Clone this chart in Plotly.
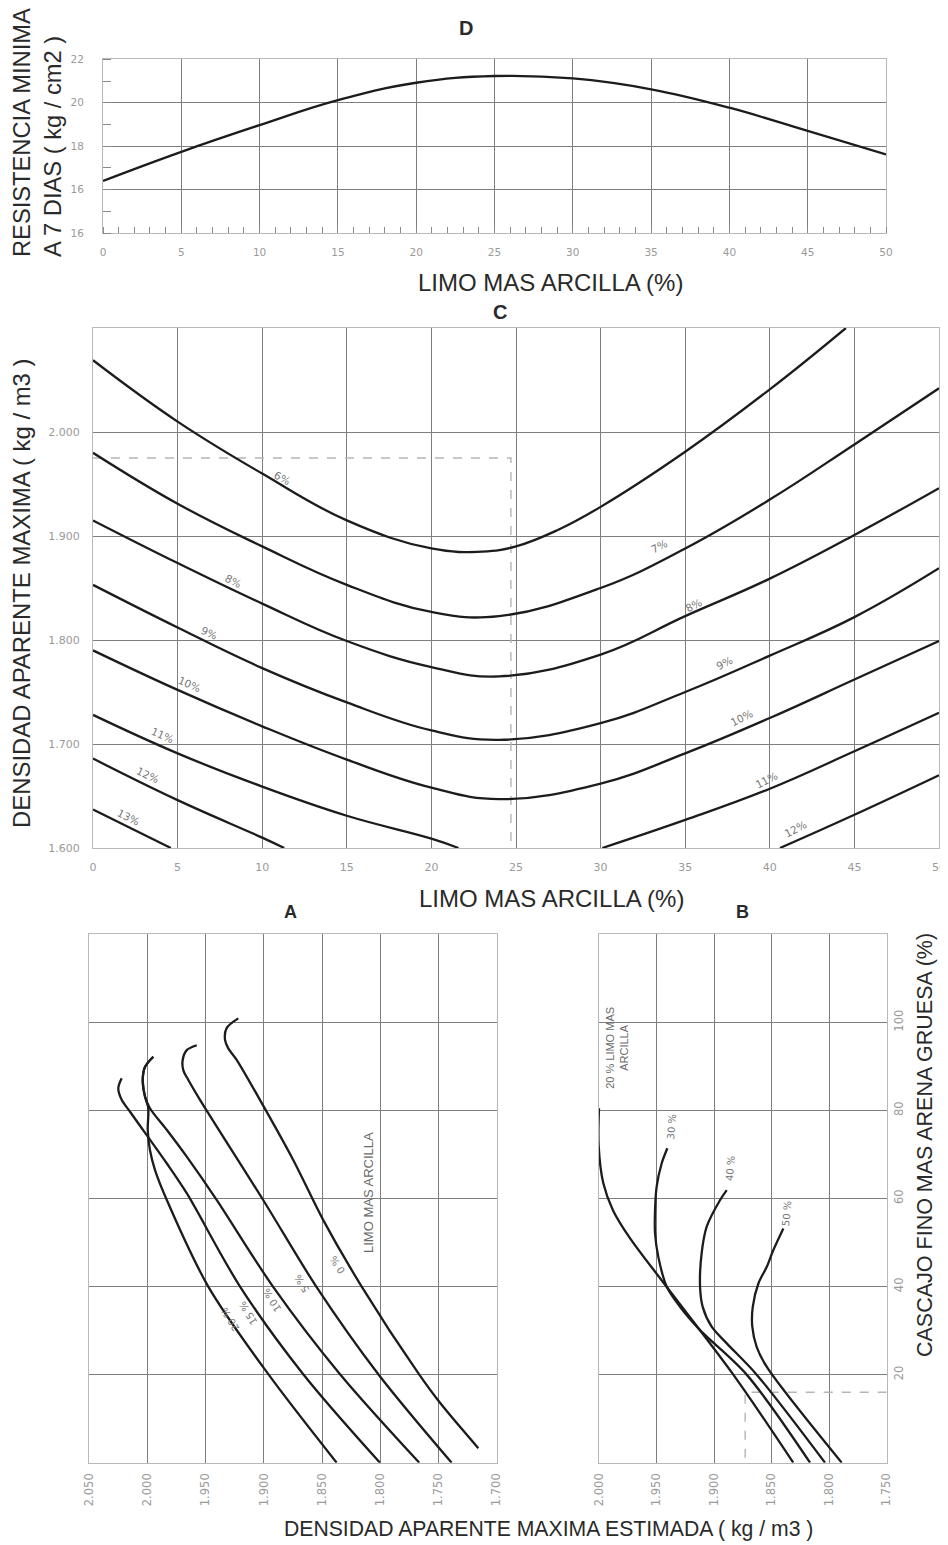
import plotly.graph_objects as go

# page body has an 8px margin: the figure is sized to fill the remaining window
OFF = 8
W, H = 948 - OFF, 1545 - OFF

# ---------------- DATA ----------------
# Panel D : resistencia minima vs limo mas arcilla
d_limo = [0, 5, 10, 15, 20, 25, 30, 35, 40, 45, 50]
d_resist = [16.4, 17.74, 18.97, 20.12, 20.92, 21.23, 21.12, 20.62, 19.77, 18.70, 17.62]
d_ytick_vals = [14, 16, 18, 20, 22]
d_ytick_text = ["16", "16", "18", "20", "22"]
d_xtick_vals = [0, 5, 10, 15, 20, 25, 30, 35, 40, 45, 50]

# Panel C : densidad aparente maxima vs limo mas arcilla (per moisture %)
c_x_6 = [0, 5, 10, 15, 20, 23, 25, 27.5, 30, 35, 40, 44.5]
c_y_6 = [2069, 2010, 1960, 1915, 1888, 1885, 1890, 1906, 1928, 1981, 2041, 2100]
c_x_7 = [0, 5, 10, 15, 20, 24, 30, 35, 40, 45, 50]
c_y_7 = [1980, 1931, 1890, 1853, 1827, 1823, 1850, 1888, 1935, 1988, 2042]
c_x_8 = [0, 5, 10, 15, 20, 24, 30, 35, 40, 45, 50]
c_y_8 = [1915, 1874, 1835, 1799, 1774, 1765, 1786, 1823, 1859, 1901, 1946]
c_x_9 = [0, 5, 10, 15, 20, 24, 30, 35, 40, 45, 50]
c_y_9 = [1853, 1812, 1773, 1740, 1713, 1704, 1720, 1750, 1785, 1822, 1869]
c_x_10 = [0, 5, 10, 15, 20, 24, 30, 35, 40, 45, 50]
c_y_10 = [1790, 1752, 1717, 1685, 1658, 1647, 1662, 1691, 1725, 1762, 1799]
c_x_11 = [0, 5, 10, 15, 20, 21.6, None, 30.1, 35, 40, 45, 50]
c_y_11 = [1728, 1691, 1659, 1631, 1609, 1600, None, 1600, 1627, 1657, 1693, 1730]
c_x_12 = [0, 5, 10, 11.3, None, 40.6, 45, 50]
c_y_12 = [1686, 1646, 1610, 1600, None, 1600, 1632, 1670]
c_x_13 = [0, 4.6]
c_y_13 = [1637, 1600]
c_guide_x = [0, 24.7, 24.7]
c_guide_y = [1975, 1975, 1600]
c_ytick_vals = [1600, 1700, 1800, 1900, 2000]
c_ytick_text = ["1.600", "1.700", "1.800", "1.900", "2.000"]
c_xtick_vals = [0, 5, 10, 15, 20, 25, 30, 35, 40, 45, 50]
# curve labels: text, x, y, angle
c_label_text = ["6%", "8%", "9%", "10%", "11%", "12%", "13%", "7%", "8%", "9%", "10%", "11%", "12%"]
c_label_x = [11.2, 8.3, 6.9, 5.7, 4.1, 3.25, 2.1, 33.5, 35.5, 37.3, 38.3, 39.8, 41.5]
c_label_y = [1956, 1857, 1807, 1758, 1709, 1670, 1630, 1890, 1834, 1778, 1725, 1665, 1618]
c_label_ang = [28, 27, 25, 24, 24, 25, 26, -27, -27, -27, -27, -27, -27]

# Panel A : densidad vs cascajo (per limo mas arcilla %)
a_x_0 = [1922.0, 1932.0, 1933.4, 1930.6, 1923.4, 1903.4, 1874.7, 1849.0, 1816.0, 1766.8, 1748.7, 1715.8]
a_y_0 = [100.9, 98.7, 96.0, 94.1, 91.5, 82.4, 68.7, 55.1, 40.0, 20.1, 13.6, 3.3]
a_x_5 = [1957.7, 1966.3, 1969.8, 1969.2, 1964.9, 1954.9, 1900.5, 1855.0, 1801.7, 1738.7]
a_y_5 = [94.8, 93.7, 91.4, 89.1, 86.9, 82.4, 59.6, 40.0, 20.1, 0.0]
a_x_10 = [1995.0, 2002.1, 2004.1, 2002.1, 1997.9, 1983.5, 1966.3, 1940.6, 1892.2, 1834.6, 1766.5]
a_y_10 = [92.2, 89.9, 86.9, 83.1, 80.5, 75.6, 69.5, 59.7, 40.0, 20.1, 0.0]
a_x_15 = [2022.2, 2025.1, 2022.2, 2015.0, 2000.7, 1983.5, 1966.3, 1920.5, 1866.2, 1800.3]
a_y_15 = [87.3, 85.0, 82.4, 79.7, 74.4, 68.0, 61.2, 40.0, 20.1, 0.0]
a_x_20 = [1995.0, 2002.1, 2004.1, 2002.1, 1999.3, 1999.8, 1997.9, 1993.6, 1983.5, 1947.8, 1896.2, 1837.5]
a_y_20 = [92.2, 89.9, 86.9, 83.1, 80.5, 75.6, 71.0, 66.5, 59.7, 40.0, 20.1, 0.0]
a_label_text = ["0 %", "5 %", "10 %", "15 %", "20 %"]
a_label_x = [1836.3, 1867.5, 1893.3, 1913.4, 1929.1]
a_label_y = [44.9, 40.7, 36.9, 33.9, 32.4]
dens_a_ticks = [2050, 2000, 1950, 1900, 1850, 1800, 1750, 1700]
dens_a_text = ["2.050", "2.000", "1.950", "1.900", "1.850", "1.800", "1.750", "1.700"]

# Panel B : densidad vs cascajo (per limo mas arcilla %)
b_x_20 = [2000.0, 2000.3, 1996.3, 1987.8, 1973.1, 1942.6, 1883.3, 1831.2]
b_y_20 = [80.5, 72.0, 63.5, 57.3, 51.0, 40.4, 20.0, 0.0]
b_x_30 = [1940.6, 1945.5, 1949.9, 1951.3, 1951.3, 1948.5, 1941.2, 1929.6, 1912.2, 1871.7, 1816.6]
b_y_30 = [71.4, 68.0, 62.7, 57.4, 52.1, 46.8, 40.0, 35.4, 30.1, 20.0, 0.0]
b_x_40 = [1889.0, 1894.9, 1906.4, 1910.8, 1912.2, 1909.9, 1902.1, 1889.0, 1863.0, 1803.6]
b_y_40 = [61.9, 59.6, 53.6, 47.6, 40.0, 35.4, 30.9, 27.1, 20.0, 0.0]
b_x_50 = [1839.8, 1848.5, 1854.2, 1861.5, 1866.4, 1866.8, 1863.0, 1854.3, 1789.1]
b_y_50 = [53.2, 48.3, 44.5, 40.7, 35.4, 30.9, 26.3, 21.8, 0.0]
b_guide_x = [1750, 1873, 1873]
b_guide_y = [16, 16, 0]
b_label_text = ["30 %", "40 %", "50 %"]
b_label_x = [1936.8, 1886.2, 1836.9]
b_label_y = [76.3, 66.9, 56.6]
dens_b_ticks = [2000, 1950, 1900, 1850, 1800, 1750]
dens_b_text = ["2.000", "1.950", "1.900", "1.850", "1.800", "1.750"]
casc_ticks = [0, 20, 40, 60, 80, 100, 120]
casc_text = ["", "20", "40", "60", "80", "100", ""]

# ---------------- STYLE ----------------
FONT = "Liberation Sans"
TFONT = "DejaVu Sans"
CURVE = dict(color="#1c1c1c", width=2.3, shape="spline", smoothing=0.9)
CURVE_SMOOTH = dict(color="#1c1c1c", width=2.3, shape="spline", smoothing=1.2)
GUIDE = dict(color="#b5b5b5", width=1.4, dash="dash")
GRID = "#7e7e7e"
TICKC = "#9a9a9a"


def xd(a, b):
    return [(a - OFF) / W, (b - OFF) / W]


def yd(top, bot):
    return [1 - (bot - OFF) / H, 1 - (top - OFF) / H]


fig = go.Figure()


def curve(x, y, xa, ya, line=CURVE):
    fig.add_trace(go.Scatter(x=x, y=y, mode="lines", line=line, xaxis=xa, yaxis=ya,
                             hoverinfo="skip", showlegend=False, connectgaps=False))


# D
curve(d_limo, d_resist, "x", "y", CURVE_SMOOTH)
# C
curve(c_guide_x, c_guide_y, "x2", "y2", GUIDE)
for cx, cy in [(c_x_6, c_y_6), (c_x_7, c_y_7), (c_x_8, c_y_8), (c_x_9, c_y_9),
               (c_x_10, c_y_10), (c_x_11, c_y_11), (c_x_12, c_y_12), (c_x_13, c_y_13)]:
    curve(cx, cy, "x2", "y2", CURVE_SMOOTH)
# A
for ax_, ay_ in [(a_x_0, a_y_0), (a_x_5, a_y_5), (a_x_10, a_y_10), (a_x_15, a_y_15), (a_x_20, a_y_20)]:
    curve(ax_, ay_, "x3", "y3")
# B
curve(b_guide_x, b_guide_y, "x4", "y4", GUIDE)
for bx, by in [(b_x_20, b_y_20), (b_x_30, b_y_30), (b_x_40, b_y_40), (b_x_50, b_y_50)]:
    curve(bx, by, "x4", "y4")

common = dict(showgrid=True, gridcolor=GRID, gridwidth=1.2, showline=True, mirror=True,
              linecolor="#b8b8b8", linewidth=1, zeroline=False, ticks="",
              tickfont=dict(family=TFONT, size=11, color=TICKC),
              tickmode="array", fixedrange=True, automargin=False)
rot_font = dict(family=TFONT, size=11.5, color=TICKC)

fig.update_layout(
    width=W, height=H, margin=dict(l=0, r=0, t=0, b=0, pad=0, autoexpand=False),
    paper_bgcolor="white", plot_bgcolor="white", showlegend=False,
    font=dict(family=FONT),
    xaxis=dict(common, domain=xd(103, 886), range=[0, 50], anchor="y",
               tickvals=d_xtick_vals, ticktext=[str(v) for v in d_xtick_vals], ticklabelstandoff=9,
               tickfont=dict(family=TFONT, size=10.5, color=TICKC),
               minor=dict(tickmode="linear", tick0=0, dtick=1, ticks="inside", ticklen=6,
                          tickcolor="#8a8a8a", showgrid=False)),
    yaxis=dict(common, domain=yd(59.3, 233), range=[14, 22], anchor="x",
               tickvals=d_ytick_vals, ticktext=d_ytick_text, ticklabelstandoff=16,
               tickfont=dict(family=TFONT, size=10.5, color=TICKC),
               minor=dict(tickmode="linear", tick0=0, dtick=1, ticks="inside", ticklen=8,
                          tickcolor="#8a8a8a", showgrid=False)),
    xaxis2=dict(common, domain=xd(93, 939), range=[0, 50], anchor="y2",
                tickvals=c_xtick_vals, ticktext=[str(v) for v in c_xtick_vals], ticklabelstandoff=9),
    yaxis2=dict(common, domain=yd(328, 848), range=[1600, 2100], anchor="x2",
                tickvals=c_ytick_vals, ticktext=c_ytick_text, ticklabelstandoff=10),
    xaxis3=dict(common, domain=xd(89.3, 496.7), range=[2050, 1700], anchor="y3",
                tickvals=dens_a_ticks, ticktext=dens_a_text, tickangle=-90, ticklabelstandoff=5,
                tickfont=rot_font),
    yaxis3=dict(common, domain=yd(934.3, 1462.7), range=[0, 120], anchor="x3",
                tickvals=casc_ticks, showticklabels=False),
    xaxis4=dict(common, domain=xd(599, 886.7), range=[2000, 1750], anchor="y4",
                tickvals=dens_b_ticks, ticktext=dens_b_text, tickangle=-90, ticklabelstandoff=5,
                tickfont=rot_font),
    yaxis4=dict(common, domain=yd(934.3, 1462.7), range=[0, 120], anchor="x4", side="right",
                tickvals=casc_ticks, ticktext=casc_text, tickangle=-90, ticklabelstandoff=1,
                tickfont=rot_font),
)

ann = []


def ptext(text, px, py, size, angle=0, bold=False, color="#2a2a2a", align="center"):
    ann.append(dict(text=("<b>%s</b>" % text) if bold else text, x=(px - OFF) / W,
                    y=1 - (py - OFF) / H, xref="paper", yref="paper", showarrow=False,
                    textangle=angle, align=align, xanchor="center", yanchor="middle",
                    font=dict(family=FONT, size=size, color=color)))


# panel letters
ptext("D", 466, 28, 20, bold=True)
ptext("C", 500, 312, 20, bold=True)
ptext("A", 290, 912, 18, bold=True)
ptext("B", 742, 912, 18, bold=True)
# axis titles
ptext("RESISTENCIA MINIMA<br>A 7 DIAS ( kg / cm2 )", 38, 133, 23.7, angle=-90, align="left")
ptext("LIMO MAS ARCILLA (%)", 550, 283, 24)
ptext("DENSIDAD APARENTE MAXIMA ( kg / m3 )", 21, 593, 23.9, angle=-90)
ptext("LIMO MAS ARCILLA (%)", 551, 898, 24)
ptext("DENSIDAD APARENTE MAXIMA ESTIMADA ( kg / m3 )", 548, 1529, 21.2)
ptext("CASCAJO FINO MAS ARENA GRUESA (%)", 925, 1145, 21.5, angle=-90)

lab_font = dict(family=TFONT, size=10.5, color="#777777")
for t, x, y, a in zip(c_label_text, c_label_x, c_label_y, c_label_ang):
    ann.append(dict(text=t, x=x, y=y, xref="x2", yref="y2", showarrow=False, textangle=a,
                    font=lab_font))
for t, x, y in zip(a_label_text, a_label_x, a_label_y):
    ann.append(dict(text=t, x=x, y=y, xref="x3", yref="y3", showarrow=False, textangle=-122,
                    font=dict(family=TFONT, size=10, color="#777777")))
ann.append(dict(text="LIMO MAS ARCILLA", x=1810, y=61.4, xref="x3", yref="y3", showarrow=False,
                textangle=-90, font=dict(family=FONT, size=13, color="#6a6a6a")))
for t, x, y in zip(b_label_text, b_label_x, b_label_y):
    ann.append(dict(text=t, x=x, y=y, xref="x4", yref="y4", showarrow=False, textangle=-85,
                    font=dict(family=TFONT, size=10, color="#777777")))
ann.append(dict(text="20 % LIMO MAS<br>ARCILLA", x=1984.4, y=94.2, xref="x4", yref="y4",
                showarrow=False, textangle=-90, font=dict(family=FONT, size=11, color="#6a6a6a")))

fig.update_layout(annotations=ann)
fig.write_html("out.html")
